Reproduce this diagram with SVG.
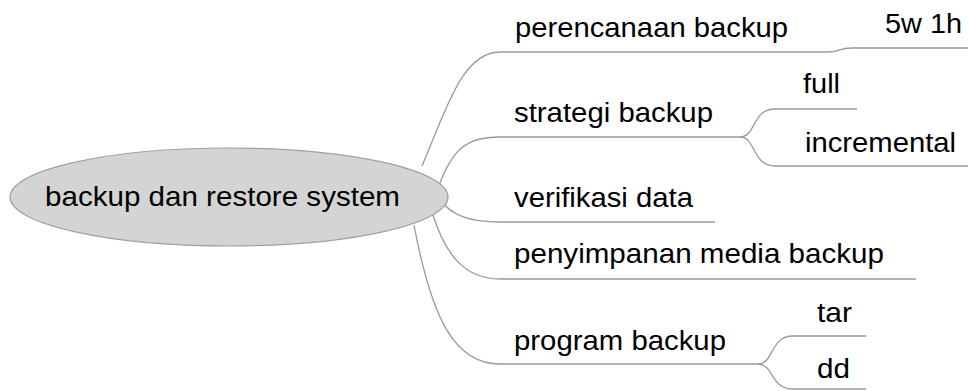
<svg xmlns="http://www.w3.org/2000/svg" width="968" height="391" viewBox="0 0 968 391">
<style>
.c{fill:none;stroke:#9a9a9a;stroke-width:1.3}
.t{font-family:"Liberation Sans",Arial,sans-serif;font-size:27.5px;fill:#000}
</style>
<rect width="968" height="391" fill="#fff"/>
<g id="connectors">
<path class="c" d="M422,166 C446,110 462,52 500,52 L828,52 C840,52 838,48 852,48 L968,48"/>
<path class="c" d="M438,188 C452,150 465,137 500,137 L740,137"/>
<path class="c" d="M740,137 C756,137 752,109 775,109 L857,109"/>
<path class="c" d="M740,137 C756,137 752,166 775,166 L968,166"/>
<path class="c" d="M440,200 C452,215 468,222 500,222 L715,222"/>
<path class="c" d="M432,212 C445,255 465,279 500,279 L916,279"/>
<path class="c" d="M414,225 C432,320 455,364 500,364 L758,364"/>
<path class="c" d="M758,364 C774,364 770,336 793,336 L866,336"/>
<path class="c" d="M758,364 C774,364 770,389 793,389 L866,389"/>
</g>
<g id="root">
<ellipse cx="229" cy="197" rx="219" ry="49" fill="#d4d4d4" stroke="#a0a0a0" stroke-width="1.2"/>
<text class="t" x="45" y="206" textLength="355" lengthAdjust="spacingAndGlyphs">backup dan restore system</text>
</g>
<g id="n-perencanaan"><text class="t" x="515" y="37" textLength="273" lengthAdjust="spacingAndGlyphs">perencanaan backup</text></g>
<g id="n-5w1h"><text class="t" x="885" y="33" textLength="77" lengthAdjust="spacingAndGlyphs">5w 1h</text></g>
<g id="n-strategi"><text class="t" x="514" y="122" textLength="199" lengthAdjust="spacingAndGlyphs">strategi backup</text></g>
<g id="n-full"><text class="t" x="803" y="93" textLength="37" lengthAdjust="spacingAndGlyphs">full</text></g>
<g id="n-incremental"><text class="t" x="805" y="152" textLength="151" lengthAdjust="spacingAndGlyphs">incremental</text></g>
<g id="n-verifikasi"><text class="t" x="514" y="207" textLength="179" lengthAdjust="spacingAndGlyphs">verifikasi data</text></g>
<g id="n-penyimpanan"><text class="t" x="514" y="263" textLength="370" lengthAdjust="spacingAndGlyphs">penyimpanan media backup</text></g>
<g id="n-program"><text class="t" x="514" y="350" textLength="212" lengthAdjust="spacingAndGlyphs">program backup</text></g>
<g id="n-tar"><text class="t" x="817" y="322" textLength="35" lengthAdjust="spacingAndGlyphs">tar</text></g>
<g id="n-dd"><text class="t" x="817" y="378" textLength="33" lengthAdjust="spacingAndGlyphs">dd</text></g>
</svg>
